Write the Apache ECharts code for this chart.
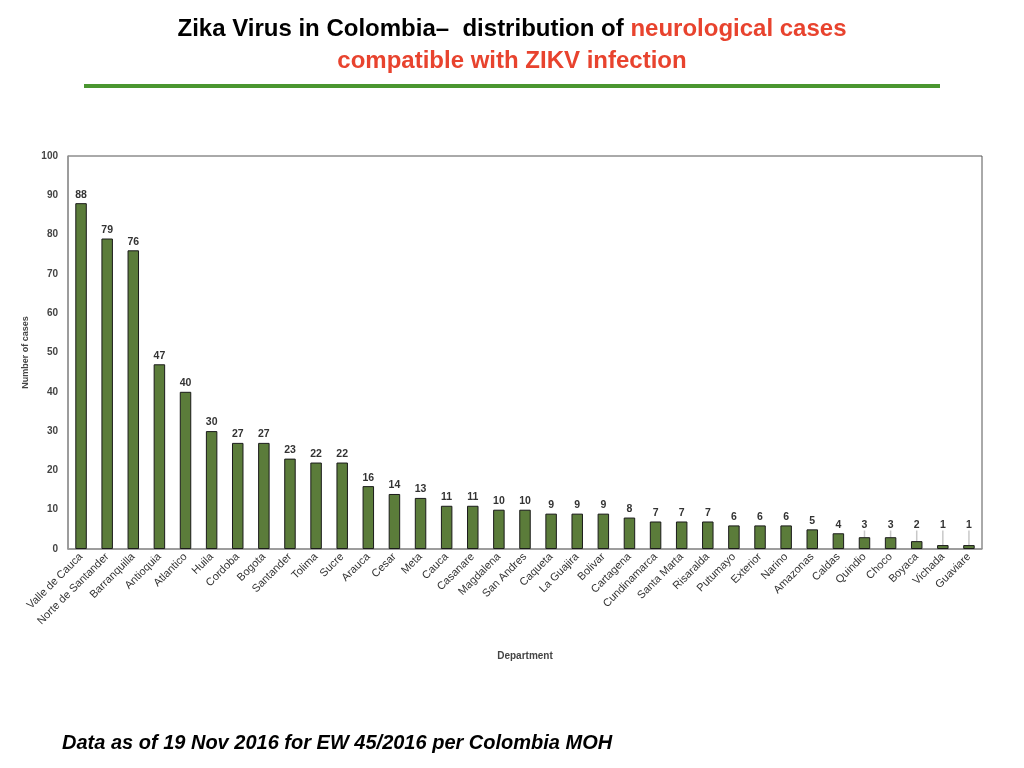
<!DOCTYPE html>
<html>
<head>
<meta charset="utf-8">
<script src="https://cdn.jsdelivr.net/npm/echarts@6/dist/echarts.min.js"></script>
<style>
  html, body { margin: 0; padding: 0; background: #fff; }
  #chart { width: 1024px; height: 768px; }
</style>
</head>
<body>
<div id="chart"></div>
<script>
// departments, sorted by case count
var departments = ['Valle de Cauca', 'Norte de Santander', 'Barranquilla', 'Antioquia', 'Atlantico',
    'Huila', 'Cordoba', 'Bogota', 'Santander', 'Tolima', 'Sucre', 'Arauca', 'Cesar', 'Meta',
    'Cauca', 'Casanare', 'Magdalena', 'San Andres', 'Caqueta', 'La Guajira', 'Bolivar',
    'Cartagena', 'Cundinamarca', 'Santa Marta', 'Risaralda', 'Putumayo', 'Exterior', 'Narino',
    'Amazonas', 'Caldas', 'Quindio', 'Choco', 'Boyaca', 'Vichada', 'Guaviare'];
var cases = [88, 79, 76, 47, 40, 30, 27, 27, 23, 22, 22, 16, 14, 13, 11, 11, 10, 10, 9, 9, 9,
    8, 7, 7, 7, 6, 6, 6, 5, 4, 3, 3, 2, 1, 1];
var yTicks = { min: 0, max: 100, interval: 10 };

var chart = echarts.init(document.getElementById('chart'));

// tiny bars get their label lifted with a leader line
var barData = cases.map(function (v) {
    return v <= 3 ? { value: v, labelLine: { show: true } } : v;
});

var option = {
    animation: false,
    backgroundColor: '#fff',
    textStyle: { fontFamily: 'Liberation Sans, Arial, sans-serif' },
    graphic: [
        {
            type: 'text', left: 'center', top: 17,
            style: {
                text: '{k|Zika Virus in Colombia\u2013  distribution of }{r|neurological cases}',
                rich: {
                    k: { fill: '#000', font: 'bold 24px Liberation Sans' },
                    r: { fill: '#e8432e', font: 'bold 24px Liberation Sans' }
                }
            }
        },
        {
            type: 'text', left: 'center', top: 49,
            style: { text: 'compatible with ZIKV infection', fill: '#e8432e', font: 'bold 24px Liberation Sans' }
        },
        {
            type: 'rect', shape: { x: 84, y: 84, width: 856, height: 4 },
            style: { fill: '#4a9630' }
        },
        {
            type: 'text', left: 62, top: 733,
            style: {
                text: 'Data as of 19 Nov 2016 for EW 45/2016 per Colombia MOH',
                fill: '#000', font: 'italic bold 20px Liberation Sans'
            }
        }
    ],
    grid: {
        left: 68, right: 42, top: 156, bottom: 219,
        show: true, borderColor: '#555', borderWidth: 1, backgroundColor: 'transparent'
    },
    xAxis: {
        type: 'category',
        data: departments,
        name: 'Department',
        nameLocation: 'middle',
        nameGap: 102,
        nameTextStyle: { fontSize: 10, fontWeight: 'bold', color: '#444' },
        axisLine: { lineStyle: { color: '#999', width: 1.5 } },
        axisTick: { show: false },
        axisLabel: { interval: 0, rotate: 45, fontSize: 11, color: '#333', margin: 6 }
    },
    yAxis: {
        type: 'value',
        min: yTicks.min, max: yTicks.max, interval: yTicks.interval,
        name: 'Number of cases',
        nameLocation: 'middle',
        nameGap: 34,
        nameTextStyle: { fontSize: 9, fontWeight: 'bold', color: '#444' },
        axisLine: { show: true, lineStyle: { color: '#999', width: 1.5 } },
        axisTick: { show: false },
        splitLine: { show: false },
        axisLabel: { fontSize: 10, fontWeight: 'bold', color: '#444', margin: 10 }
    },
    series: [{
        type: 'bar',
        data: barData,
        barWidth: '44%',
        itemStyle: { color: '#5b7c3a', borderColor: '#1a1a1a', borderWidth: 1 },
        label: {
            show: true, position: 'top', distance: 3,
            fontSize: 10.5, fontWeight: 'bold', color: '#333'
        },
        labelLine: { show: false, lineStyle: { color: '#c8c8c8', width: 1.5 } },
        labelLayout: function (p) {
            var zeroY = p.rect.y + p.rect.height;
            var cy = p.labelRect.y + p.labelRect.height / 2;
            var floor = zeroY - 24;
            return { dy: Math.min(0, floor - cy) };
        }
    }]
};

chart.setOption(option);
</script>
</body>
</html>
